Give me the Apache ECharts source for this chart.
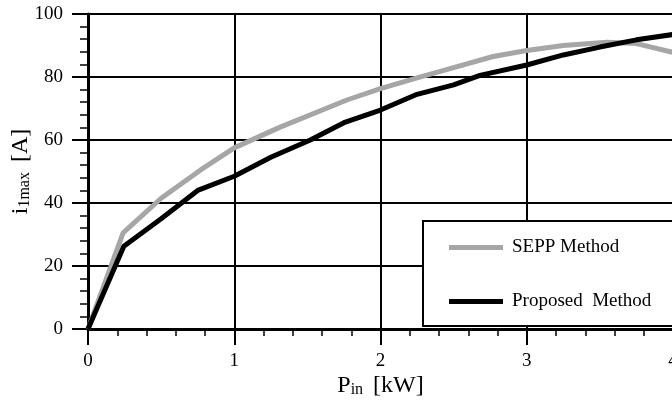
<!DOCTYPE html>
<html>
<head>
<meta charset="utf-8">
<script src="https://cdn.jsdelivr.net/npm/echarts@6/dist/echarts.min.js"></script>
<style>
  html, body { margin: 0; padding: 0; background: #fff; }
  #chart { width: 672px; height: 402px; }
</style>
</head>
<body>
<div id="chart"></div>
<script>
// Input power (kW) and peak current i1max (A) for both control methods
const seppPin = [0, 0.24, 0.5, 0.77, 1.0, 1.31, 1.77, 2.0, 2.25, 2.5, 2.77, 3.0, 3.25, 3.55, 3.75, 4.0];
const seppCurrent = [0, 30.5, 41.5, 50.5, 57.5, 64, 72.7, 76.3, 79.7, 83, 86.5, 88.4, 90, 91, 90.6, 87.8];

const proposedPin = [0, 0.245, 0.5, 0.75, 1.0, 1.25, 1.52, 1.75, 2.0, 2.25, 2.5, 2.68, 3.0, 3.25, 3.5, 3.75, 4.0];
const proposedCurrent = [0, 26.3, 35, 44, 48.5, 54.5, 60, 65.5, 69.5, 74.5, 77.5, 80.5, 83.8, 87, 89.5, 91.8, 93.5];

const seriesNames = ['SEPP Method', 'Proposed  Method'];

const serif = 'Liberation Serif, Times New Roman, serif';

function pairs(xs, ys) {
  return xs.map((x, i) => [x, ys[i]]);
}

const chart = echarts.init(document.getElementById('chart'), null, { renderer: 'canvas' });

const tickLabel = { color: '#000', fontFamily: serif, fontSize: 19 };

chart.setOption({
  animation: false,
  backgroundColor: '#fff',
  grid: { left: 88, top: 14, width: 585, height: 315, containLabel: false, outerBoundsMode: 'none' },
  legend: {
    orient: 'vertical',
    left: 423,
    top: 221,
    data: seriesNames,
    backgroundColor: '#fff',
    borderColor: '#000',
    borderWidth: 2,
    borderRadius: 0,
    padding: [17, 60, 15, 26],
    itemGap: 35,
    itemWidth: 54,
    itemHeight: 5,
    icon: 'rect',
    textStyle: { color: '#000', fontFamily: serif, fontSize: 19, padding: [0, 0, 0, 4] }
  },
  xAxis: {
    type: 'value',
    min: 0,
    max: 4,
    interval: 1,
    name: '{p|P}{sub|in}   {u|[kW]}',
    nameLocation: 'middle',
    nameGap: 45,
    nameMoveOverlap: false,
    nameTextStyle: {
      rich: {
        p: { fontFamily: serif, fontSize: 24, color: '#000' },
        sub: { fontFamily: serif, fontSize: 16, color: '#000', padding: [8, 0, 0, 0] },
        u: { fontFamily: serif, fontSize: 24, color: '#000' }
      }
    },
    axisLine: { lineStyle: { color: '#000', width: 3 } },
    axisTick: { length: 16, lineStyle: { color: '#000', width: 2 } },
    minorTick: { show: true, splitNumber: 5, length: 7, lineStyle: { color: '#000', width: 1.5 } },
    axisLabel: Object.assign({ margin: 23 }, tickLabel),
    splitLine: { show: true, lineStyle: { color: '#000', width: 2 } }
  },
  yAxis: {
    type: 'value',
    min: 0,
    max: 100,
    interval: 20,
    name: '{i|i}{sub|1max}   {u|[A]}',
    nameLocation: 'middle',
    nameGap: 55,
    nameRotate: 90,
    nameMoveOverlap: false,
    nameTextStyle: {
      rich: {
        i: { fontFamily: serif, fontSize: 24, color: '#000' },
        sub: { fontFamily: serif, fontSize: 16, color: '#000', padding: [8, 0, 0, 0] },
        u: { fontFamily: serif, fontSize: 24, color: '#000' }
      }
    },
    axisLine: { show: true, lineStyle: { color: '#000', width: 3 } },
    axisTick: { show: true, length: 16, lineStyle: { color: '#000', width: 2 } },
    minorTick: { show: true, splitNumber: 5, length: 8, lineStyle: { color: '#000', width: 1.5 } },
    axisLabel: Object.assign({ margin: 25 }, tickLabel),
    splitLine: { show: true, lineStyle: { color: '#000', width: 2 } }
  },
  series: [
    {
      name: seriesNames[0],
      type: 'line',
      data: pairs(seppPin, seppCurrent),
      showSymbol: false,
      symbol: 'none',
      color: '#a6a6a6',
      lineStyle: { color: '#a6a6a6', width: 5 },
      z: 3
    },
    {
      name: seriesNames[1],
      type: 'line',
      data: pairs(proposedPin, proposedCurrent),
      showSymbol: false,
      symbol: 'none',
      color: '#000',
      lineStyle: { color: '#000', width: 5 },
      z: 4
    }
  ]
});
</script>
</body>
</html>
